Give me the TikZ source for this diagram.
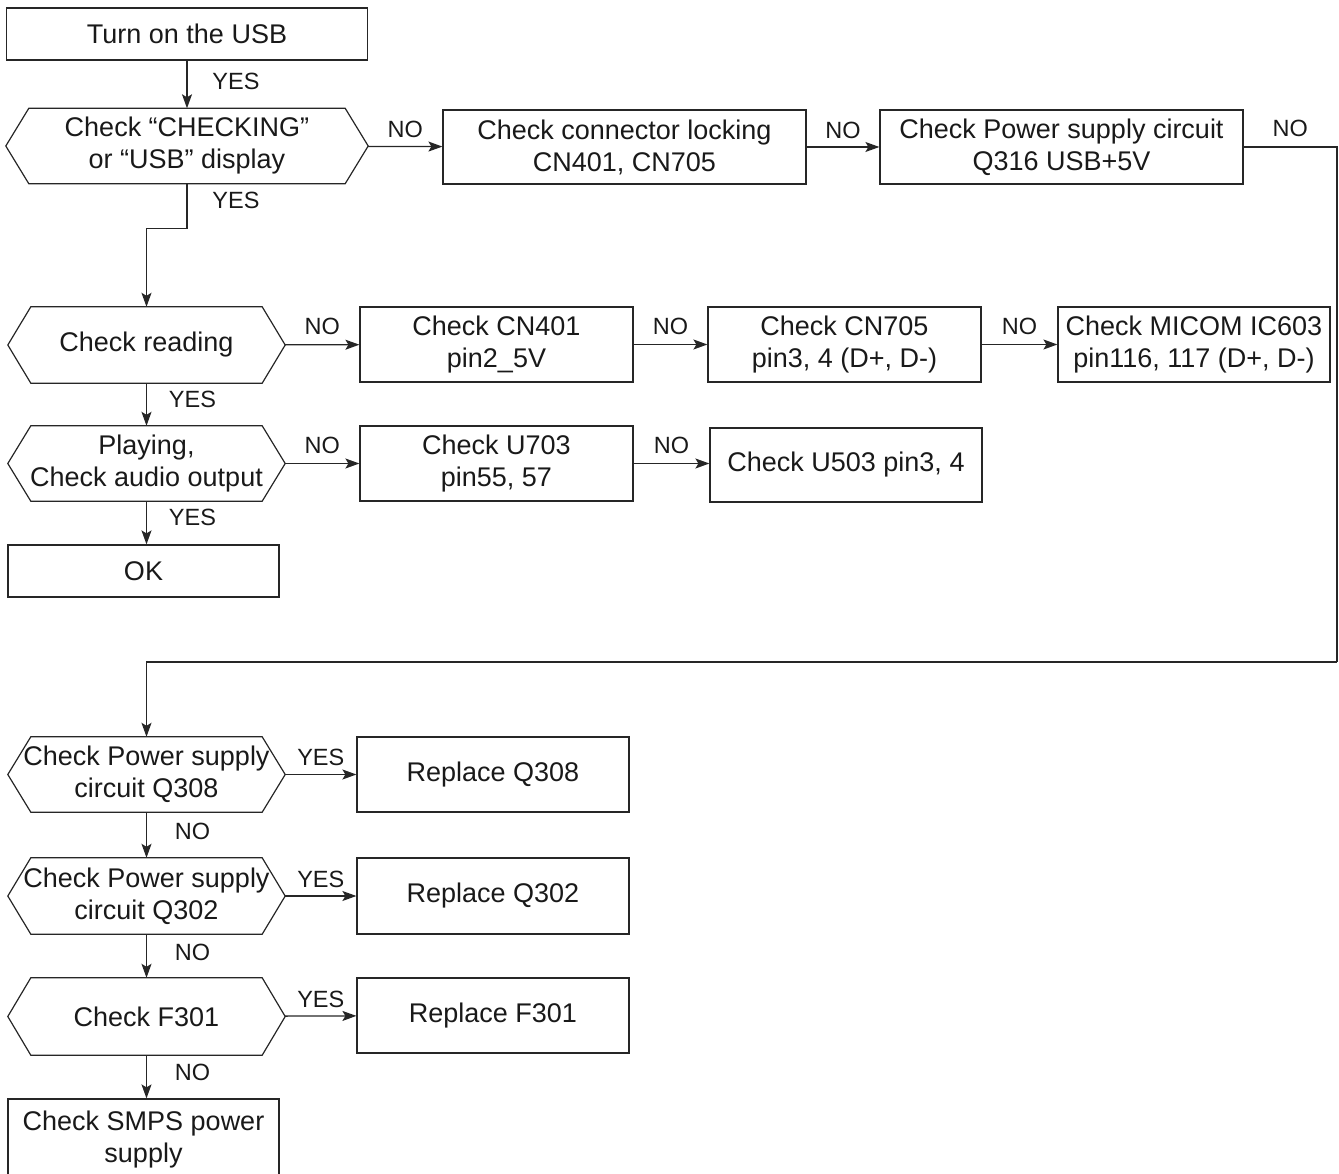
\documentclass[tikz,border=0pt]{standalone}
\usepackage{fontspec}
\setmainfont{Liberation Sans}
\usetikzlibrary{arrows.meta}
\tikzset{
  x=1pt, y=-1pt,
  base/.style={font=\fontsize{27}{32}\selectfont, align=center, inner sep=0pt, text=black!90},
  box/.style={base, draw=black!85, line width=1.2pt},
  hex/.style={base, append after command={\pgfextra{\begin{pgfinterruptpath}
      \draw[line width=1.2pt, draw=black!85] (\tikzlastnode.west) -- ([xshift=23]\tikzlastnode.north west)
        -- ([xshift=-23]\tikzlastnode.north east) -- (\tikzlastnode.east)
        -- ([xshift=-23]\tikzlastnode.south east) -- ([xshift=23]\tikzlastnode.south west) -- cycle;
      \end{pgfinterruptpath}}}},
  lbl/.style={font=\fontsize{23.5}{27}\selectfont, inner sep=0pt, text=black!90},
  arr/.style={line width=1.3pt, draw=black!85, -{Stealth[length=14pt, width=10pt, inset=3pt]}},
  ln/.style={line width=1.3pt, draw=black!85}
}
\begin{document}
\begin{tikzpicture}
\useasboundingbox (0,0) rectangle (1339,1174);
\clip (0,0) rectangle (1339,1174);
% top section
\node[box, minimum width=361, minimum height=52] (start) at (187,34) {Turn on the USB};
\node[hex, minimum width=362, minimum height=75] (d1) at (187,146) {Check “CHECKING”\\or “USB” display};
\node[box, minimum width=363, minimum height=74] (b2) at (624.5,147) {Check connector locking\\CN401, CN705};
\node[box, minimum width=363, minimum height=74] (b3) at (1061.5,147) {Check Power supply circuit\\Q316 USB+5V};
\coordinate (rt1) at (1337,147);
\coordinate (rt2) at (1337,662);
% middle section
\node[hex, minimum width=277, minimum height=76] (d2) at (146.5,345) {Check reading};
\node[box, minimum width=273, minimum height=75] (c1) at (496.5,344.5) {Check CN401\\pin2\_5V};
\node[box, minimum width=273, minimum height=75] (c2) at (844.5,344.5) {Check CN705\\pin3, 4 (D+, D-)};
\node[box, minimum width=272, minimum height=75] (c3) at (1194,344.5) {Check MICOM IC603\\pin116, 117 (D+, D-)};
\node[hex, minimum width=277, minimum height=75] (d3) at (146.5,463.5) {Playing,\\Check audio output};
\node[box, minimum width=273, minimum height=75] (u1) at (496.5,463.5) {Check U703\\pin55, 57};
\node[box, minimum width=272, minimum height=74] (u2) at (846,465) {Check U503 pin3, 4};
\node[box, minimum width=271, minimum height=52] (ok) at (143.5,571) {OK};
% bottom section
\node[hex, minimum width=277, minimum height=75] (d4) at (146.5,774.5) {Check Power supply\\circuit Q308};
\node[box, minimum width=272, minimum height=75] (r1) at (493,774.5) {Replace Q308};
\node[hex, minimum width=277, minimum height=76] (d5) at (146.5,896) {Check Power supply\\circuit Q302};
\node[box, minimum width=272, minimum height=76] (r2) at (493,896) {Replace Q302};
\node[hex, minimum width=277, minimum height=77] (d6) at (146.5,1016.5) {Check F301};
\node[box, minimum width=272, minimum height=75] (r3) at (493,1015.5) {Replace F301};
\node[box, minimum width=271, minimum height=80, text depth=4pt] (smps) at (143.5,1139) {Check SMPS power\\supply};
% connectors
\draw[arr] (start) -- node[lbl, midway, xshift=49, yshift=3]{YES} (d1);
\draw[arr] (d1) -- node[lbl, midway, yshift=17]{NO} (b2);
\draw[arr] (b2) -- node[lbl, midway, yshift=17]{NO} (b3);
\draw[ln] (b3.east) -- node[lbl, midway, yshift=19]{NO} (rt1) -- (rt2);
\draw[arr] (rt2) -| (d4.north);
\draw[arr] (d1.south) -- node[lbl, pos=0.38, xshift=49]{YES} ++(0,45) -| (d2.north);
\draw[arr] (d2) -- node[lbl, midway, yshift=18]{NO} (c1);
\draw[arr] (c1) -- node[lbl, midway, yshift=18]{NO} (c2);
\draw[arr] (c2) -- node[lbl, midway, yshift=18]{NO} (c3);
\draw[arr] (d2) -- node[lbl, midway, xshift=46, yshift=5]{YES} (d3);
\draw[arr] (d3) -- node[lbl, midway, yshift=18]{NO} (u1);
\draw[arr] (u1.east) -- node[lbl, midway, yshift=18]{NO} (u1.east -| u2.west);
\draw[arr] (d3.south) -- node[lbl, midway, xshift=46, yshift=5]{YES} (d3.south |- ok.north);
\draw[arr] (d4) -- node[lbl, midway, yshift=17]{YES} (r1);
\draw[arr] (d4) -- node[lbl, midway, xshift=46, yshift=4]{NO} (d5);
\draw[arr] (d5) -- node[lbl, midway, yshift=17]{YES} (r2);
\draw[arr] (d5) -- node[lbl, midway, xshift=46, yshift=4]{NO} (d6);
\draw[arr] (d6) -- node[lbl, midway, yshift=17]{YES} (r3);
\draw[arr] (d6.south) -- node[lbl, midway, xshift=46, yshift=4]{NO} (d6.south |- smps.north);
\end{tikzpicture}
\end{document}
